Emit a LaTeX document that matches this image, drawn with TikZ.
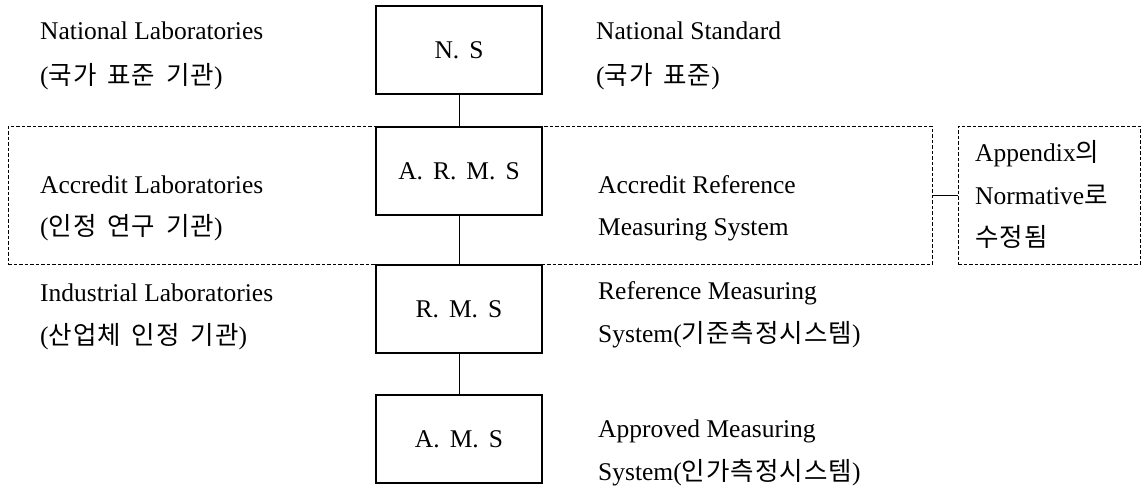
\documentclass[tikz,border=0pt]{standalone}
\usepackage{fontspec}
\setmainfont{Liberation Serif}
\newfontfamily\kr[Scale=1.0,WordSpace=1.6,LetterSpace=4]{Noto Sans CJK KR}
\newcommand{\gp}{\hspace{10pt}}
\begin{document}
\begin{tikzpicture}[x=1pt,y=-1pt,
  every node/.style={font=\fontsize{25.5}{29}\selectfont},
  box/.style={draw, line width=1.1pt, minimum width=166pt, minimum height=88pt, inner sep=0pt},
  dbox/.style={draw, dashed, dash pattern=on 3.5pt off 2pt, line width=0.8pt, inner sep=0pt},
  lbl/.style={anchor=base west, inner sep=0pt},
  conn/.style={line width=1pt},
  dconn/.style={line width=0.8pt}]
\useasboundingbox (0,0) rectangle (1145,488);
% boxes
\node[box] (ns) at (459,50) {N.\gp S};
\node[box] (arms) at (459,171) {A.\gp R.\gp M.\gp S};
\node[box] (rms) at (459,309) {R.\gp M.\gp S};
\node[box] (ams) at (459,439) {A.\gp M.\gp S};
% dashed groups
\node[dbox, minimum width=924pt, minimum height=138pt] (grp) at (470,195) {};
\node[dbox, minimum width=182pt, minimum height=138pt] (app) at (1049,195) {};
% connectors
\draw[conn] (ns.south) -- (arms.north);
\draw[conn] (arms.south) -- (rms.north);
\draw[conn] (rms.south) -- (ams.north);
\draw[dconn] (grp.east) -- (app.west);
% left labels
\node[lbl] (l1) at (40,39) {National Laboratories};
\node[lbl] (l2) at (40,84) {({\kr 국가 표준 기관})};
\node[lbl] (l3) at (40,193) {Accredit Laboratories};
\node[lbl] (l4) at (40,235) {({\kr 인정 연구 기관})};
\node[lbl] (l5) at (40,301) {Industrial Laboratories};
\node[lbl] (l6) at (40,344) {({\kr 산업체 인정 기관})};
% right labels
\node[lbl] (r1) at (596,39) {National Standard};
\node[lbl] (r2) at (596,84) {({\kr 국가 표준})};
\node[lbl] (r3) at (598,193) {Accredit Reference};
\node[lbl] (r4) at (598,235) {Measuring System};
\node[lbl] (r5) at (598,299) {Reference Measuring};
\node[lbl] (r6) at (598,342) {System({\kr 기준측정시스템})};
\node[lbl] (r7) at (598,437) {Approved Measuring};
\node[lbl] (r8) at (598,480) {System({\kr 인가측정시스템})};
% appendix text
\node[lbl] (a1) at (975,161) {Appendix{\kr 의}};
\node[lbl] (a2) at (975,204) {Normative{\kr 로}};
\node[lbl] (a3) at (975,246) {{\kr 수정됨}};
\end{tikzpicture}
\end{document}
